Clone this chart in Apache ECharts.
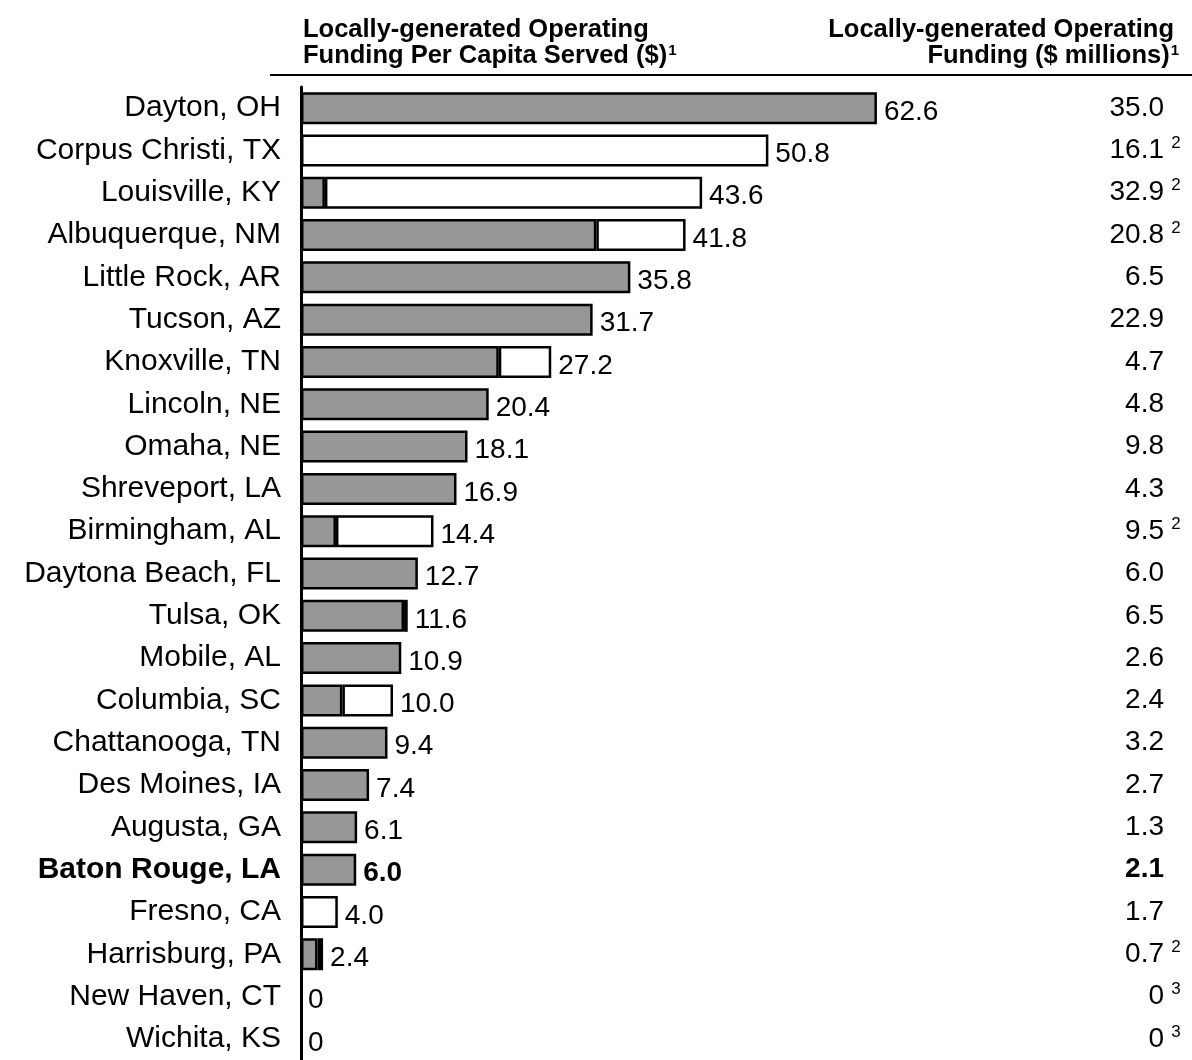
<!DOCTYPE html>
<html>
<head>
<meta charset="utf-8">
<script src="https://cdn.jsdelivr.net/npm/echarts@6/dist/echarts.min.js"></script>
<style>
html,body{margin:0;padding:0;background:#fff;}
#c{width:1192px;height:1060px;}
</style>
</head>
<body>
<div id="c"></div>
<script>
var cities = ["Dayton, OH","Corpus Christi, TX","Louisville, KY","Albuquerque, NM","Little Rock, AR","Tucson, AZ","Knoxville, TN","Lincoln, NE","Omaha, NE","Shreveport, LA","Birmingham, AL","Daytona Beach, FL","Tulsa, OK","Mobile, AL","Columbia, SC","Chattanooga, TN","Des Moines, IA","Augusta, GA","Baton Rouge, LA","Fresno, CA","Harrisburg, PA","New Haven, CT","Wichita, KS"];
var perCapitaTotal = [62.6,50.8,43.6,41.8,35.8,31.7,27.2,20.4,18.1,16.9,14.4,12.7,11.6,10.9,10.0,9.4,7.4,6.1,6.0,4.0,2.4,0,0];
var graySegment  = [62.6,0,2.6,32.1,35.8,31.7,21.5,20.4,18.1,16.9,3.8,12.7,11.2,10.9,4.5,9.4,7.4,6.1,6.0,0,1.8,0,0];
var darkSegment  = [0,0,0,0,0,0,0,0,0,0,0,0,0.4,0,0,0,0,0,0,0,0.6,0,0];
var whiteSegment = [0,50.8,41.0,9.7,0,0,5.7,0,0,0,10.6,0,0,0,5.5,0,0,0,0,4.0,0,0,0];
var fundingMillions = ["35.0","16.1","32.9","20.8","6.5","22.9","4.7","4.8","9.8","4.3","9.5","6.0","6.5","2.6","2.4","3.2","2.7","1.3","2.1","1.7","0.7","0","0"];
var fundingNotes    = ["","2","2","2","","","","","","","2","","","","","","","","","","2","3","3"];
var highlightCity = "Baton Rouge, LA";
var headerLeft = ["Locally-generated Operating","Funding Per Capita Served ($)", "1"];
var headerRight = ["Locally-generated Operating","Funding ($ millions)", "1"];

var FONT = '"Liberation Sans", Arial, Helvetica, sans-serif';
function nz(arr){ return arr.map(function(v){ return v === 0 ? null : v; }); }
function fmt(v){ return v === 0 ? '0' : v.toFixed(1); }

var chart = echarts.init(document.getElementById('c'), null, {renderer:'canvas'});
var barStyle = function(color){
  return { color: color, borderColor: '#000', borderWidth: 2.5 };
};
var HS = 25.5;
var headRich = {
  h: { fontSize: HS, fontWeight: 'bold', fontFamily: FONT, fill: '#000', color: '#000' },
  s: { fontSize: 15, fontWeight: 'bold', fontFamily: FONT, fill: '#000', color: '#000', padding: [0,0,10,1] }
};
var option = {
  backgroundColor: '#fff',
  animation: false,
  textStyle: { fontFamily: FONT },
  grid: { left: 301, top: 87, width: 736, height: 977.5, containLabel: false },
  xAxis: { type: 'value', min: 0, max: 80, show: false },
  yAxis: [
    {
      type: 'category', data: cities, inverse: true, position: 'left',
      axisLine: { show: true, lineStyle: { color: '#000', width: 3 } },
      axisTick: { show: false },
      axisLabel: {
        margin: 20, color: '#000', fontSize: 30, fontFamily: FONT,
        formatter: function(v){ return v === highlightCity ? '{b|' + v + '}' : '{n|' + v + '}'; },
        rich: {
          n: { fontSize: 30, fontFamily: FONT, color: '#000' },
          b: { fontSize: 30, fontFamily: FONT, color: '#000', fontWeight: 'bold' }
        }
      }
    },
    {
      type: 'category', data: cities, inverse: true, position: 'right',
      axisLine: { show: false }, axisTick: { show: false },
      axisLabel: {
        margin: 145, align: 'right', color: '#000', fontSize: 28, fontFamily: FONT,
        formatter: function(v, i){
          var num = fundingMillions[i];
          var note = fundingNotes[i] || ' ';
          var key = cities[i] === highlightCity ? 'b' : 'n';
          return '{' + key + '|' + num + '}{s|' + note + '}';
        },
        rich: {
          n: { fontSize: 28, fontFamily: FONT, color: '#000' },
          b: { fontSize: 28, fontFamily: FONT, color: '#000', fontWeight: 'bold' },
          s: { fontSize: 17, fontFamily: FONT, color: '#000', width: 12, padding: [0,0,14,6], align: 'left' }
        }
      }
    }
  ],
  series: [
    { name: 'gray', type: 'bar', stack: 's', barWidth: 32, data: nz(graySegment), itemStyle: barStyle('#979797'), silent: true },
    { name: 'dark', type: 'bar', stack: 's', barWidth: 32, data: nz(darkSegment), itemStyle: barStyle('#000'), silent: true },
    { name: 'white', type: 'bar', stack: 's', barWidth: 32, data: nz(whiteSegment), itemStyle: barStyle('#fff'), silent: true },
    {
      name: 'label', type: 'bar', stack: 's', barWidth: 32, silent: true,
      data: perCapitaTotal.map(function(){ return 0; }),
      itemStyle: { color: 'rgba(0,0,0,0)', borderWidth: 0 },
      label: {
        show: true, position: 'right', distance: 7, offset: [0, 4],
        formatter: function(p){
          var t = fmt(perCapitaTotal[p.dataIndex]);
          return cities[p.dataIndex] === highlightCity ? '{b|' + t + '}' : '{n|' + t + '}';
        },
        rich: {
          n: { fontSize: 28, fontFamily: FONT, color: '#000' },
          b: { fontSize: 28, fontFamily: FONT, color: '#000', fontWeight: 'bold' }
        }
      }
    }
  ],
  graphic: [
    { type: 'text', x: 303, y: 30, style: { text: '{h|' + headerLeft[0] + '}', rich: headRich, align: 'left', verticalAlign: 'middle' } },
    { type: 'text', x: 303, y: 56, style: { text: '{h|' + headerLeft[1] + '}{s|' + headerLeft[2] + '}', rich: headRich, align: 'left', verticalAlign: 'middle' } },
    { type: 'text', x: 1174, y: 30, style: { text: '{h|' + headerRight[0] + '}', rich: headRich, align: 'right', verticalAlign: 'middle' } },
    { type: 'text', x: 1179, y: 56, style: { text: '{h|' + headerRight[1] + '}{s|' + headerRight[2] + '}', rich: headRich, align: 'right', verticalAlign: 'middle' } },
    { type: 'line', shape: { x1: 270, y1: 75, x2: 1192, y2: 75 }, style: { stroke: '#000', lineWidth: 2 } }
  ]
};
chart.setOption(option);
</script>
</body>
</html>
